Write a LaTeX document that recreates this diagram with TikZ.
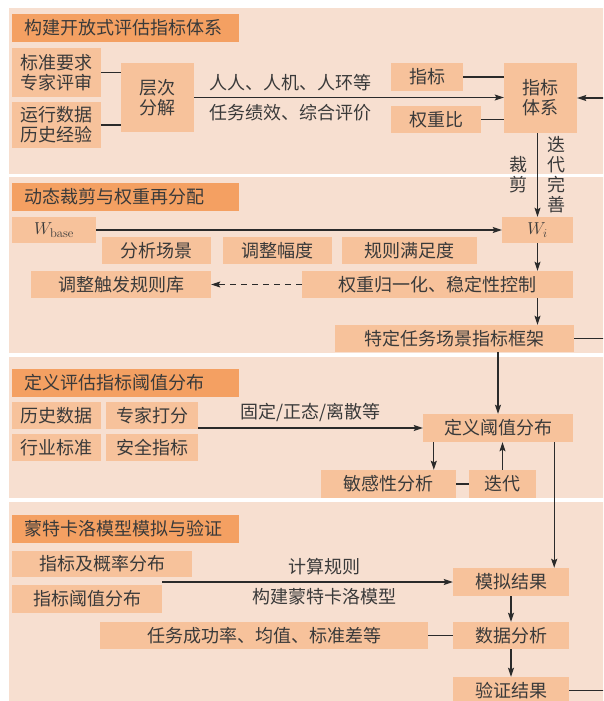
\documentclass[tikz,border=0pt]{standalone}
\usepackage{fontspec}
\newfontfamily\cjk{Noto Sans CJK SC}
\usetikzlibrary{arrows.meta}
\definecolor{panelbg}{HTML}{F7DFD0}
\definecolor{titlebg}{HTML}{F4A062}
\definecolor{boxbg}{HTML}{F7C29B}
\definecolor{textc}{HTML}{3A3A3A}
\definecolor{linec}{HTML}{2A2A2A}

\begin{document}
\begin{tikzpicture}[x=1pt, y=-1pt,
  every node/.style={font=\cjk\fontsize{18}{20}\selectfont, text=textc},
  panel/.style={fill=panelbg},
  title/.style={fill=titlebg, anchor=west, minimum height=28pt, text width=203pt,
    inner xsep=12pt, inner ysep=0pt, align=left},
  box/.style={fill=boxbg, inner sep=0pt, align=center},
  line/.style={draw=linec, line width=1.2pt},
  arrow/.style={line, -{Stealth[length=9pt, width=6pt, inset=1.5pt]}},
  lbl/.style={inner sep=2pt, align=center}
]
  \useasboundingbox (0,0) rectangle (603,701);
  \clip (0,0) rectangle (603,701);

  % panels
  \fill[panel] (9,8)   rectangle (615,174);
  \fill[panel] (9,177) rectangle (615,353);
  \fill[panel] (9,357) rectangle (615,498);
  \fill[panel] (9,502) rectangle (615,715);

  \node[title] (t1) at (12,28)    {构建开放式评估指标体系};
  \node[title] (t2) at (12,196.5) {动态裁剪与权重再分配};
  \node[title] (t3) at (12,383)   {定义评估指标阈值分布};
  \node[title] (t4) at (12,529)   {蒙特卡洛模型模拟与验证};

  % panel 1
  \node[box, minimum width=89pt, minimum height=49pt] (std)  at (56.5,72.5) {标准要求\\专家评审};
  \node[box, minimum width=89pt, minimum height=46pt] (run)  at (56.5,125)  {运行数据\\历史经验};
  \node[box, minimum width=73pt, minimum height=69pt] (ccfj) at (157.5,97.5) {层次\\分解};
  \node[box, minimum width=72pt, minimum height=28pt] (zb)   at (427,77)    {指标};
  \node[box, minimum width=90pt, minimum height=27pt] (qzb)  at (436,119.5) {权重比};
  \node[box, minimum width=73pt, minimum height=70pt] (zbtx) at (540.5,98)  {指标\\体系};

  % panel 2
  \node[box, minimum width=84pt, minimum height=26pt] (wbase) at (54,230) {$W_{\mathrm{base}}$};
  \node[box, minimum width=71pt, minimum height=26pt] (wi)    at (537.5,230) {$W_i$};
  \node[box, minimum width=109pt, minimum height=27pt] (fxcj) at (156.5,250.5) {分析场景};
  \node[box, minimum width=109pt, minimum height=27pt] (tzfd) at (277.5,250.5) {调整幅度};
  \node[box, minimum width=135pt, minimum height=27pt] (gzmz) at (409.5,250.5) {规则满足度};
  \node[box, minimum width=180pt, minimum height=27pt] (tzgz) at (121,284.5)   {调整触发规则库};
  \node[box, minimum width=271pt, minimum height=27pt] (gyh)  at (437.5,284.5) {权重归一化、稳定性控制};
  \node[box, minimum width=239pt, minimum height=27pt] (tdrw) at (454.5,338.5) {特定任务场景指标框架};

  % panel 3
  \node[box, minimum width=89pt, minimum height=27pt] (lssj) at (56.5,415.5) {历史数据};
  \node[box, minimum width=92pt, minimum height=27pt] (zjdf) at (152,415.5)  {专家打分};
  \node[box, minimum width=89pt, minimum height=27pt] (hybz) at (56.5,447.5) {行业标准};
  \node[box, minimum width=92pt, minimum height=27pt] (aqzb) at (152,447.5)  {安全指标};
  \node[box, minimum width=150pt, minimum height=28pt] (dyfz) at (498,428)   {定义阈值分布};
  \node[box, minimum width=135pt, minimum height=28pt] (mgx)  at (388.5,484)  {敏感性分析};
  \node[box, minimum width=67pt, minimum height=28pt]  (dd)   at (502.5,484)  {迭代};

  % panel 4
  \node[box, minimum width=180pt, minimum height=26pt] (zbgl) at (102,564)   {指标及概率分布};
  \node[box, minimum width=150pt, minimum height=28pt] (zbyz) at (87,599)    {指标阈值分布};
  \node[box, minimum width=116pt, minimum height=28pt] (mnjg) at (511,582)   {模拟结果};
  \node[box, minimum width=328pt, minimum height=27pt] (rwcg) at (264,635.5) {任务成功率、均值、标准差等};
  \node[box, minimum width=116pt, minimum height=27pt] (sjfx) at (511,635.5) {数据分析};
  \node[box, minimum width=116pt, minimum height=27pt] (yzjg) at (511,690.5) {验证结果};

  % feedback on the right edge
  \coordinate (fb1) at (607,98);
  \coordinate (fb2) at (607,338.5);
  \coordinate (fb3) at (607,690.5);

  % connectors
  \draw[line] (std.east) -- (std.east -| ccfj.west);
  \draw[line] (run.east) -- (run.east -| ccfj.west);
  \draw[arrow] (ccfj.east) -- node[lbl, pos=0.31, above=4pt] {人人、人机、人环等}
    node[lbl, pos=0.31, below=4pt] {任务绩效、综合评价} (ccfj.east -| zbtx.west);
  \draw[line] (zb.east) -- (zb.east -| zbtx.west);
  \draw[line] (qzb.east) -- (qzb.east -| zbtx.west);
  \draw[arrow] (zbtx.south -| wi.north) -- node[lbl, left=7pt] {裁\\剪}
    node[lbl, right=7pt] {迭\\代\\完\\善} (wi.north);

  \draw[arrow] (wbase.east) -- (wi.west);
  \draw[arrow] (wi.south) -- (wi.south |- gyh.north);
  \draw[arrow, dash pattern=on 6pt off 5pt] (gyh.west) -- (tzgz.east);
  \draw[arrow] (wi.south |- gyh.south) -- (wi.south |- tdrw.north);
  \draw[arrow] (tdrw.south -| dyfz.north) -- (dyfz.north);

  \draw[arrow] (dyfz.west -| zjdf.east) -- node[lbl, above=4pt] {固定/正态/离散等} (dyfz.west);
  \draw[arrow] ([xshift=11pt]dyfz.south west) -- ([xshift=11pt]dyfz.south west |- mgx.north);
  \draw[line] (mgx.east) -- (dd.west);
  \draw[arrow] (dd.north) -- (dd.north |- dyfz.south);
  \draw[arrow] ([xshift=-19pt]dyfz.south east) -- ([xshift=-19pt]dyfz.south east |- mnjg.north);

  \draw[arrow] (mnjg.west -| zbyz.east) -- node[lbl, pos=0.56, above=4pt] {计算规则}
    node[lbl, pos=0.56, below=4pt] {构建蒙特卡洛模型} (mnjg.west);
  \draw[arrow] (mnjg.south) -- (sjfx.north);
  \draw[line] (rwcg.east) -- (sjfx.west);
  \draw[arrow] (sjfx.south) -- (yzjg.north);

  \draw[line] (yzjg.east) -- (fb3) -- (fb1);
  \draw[line] (tdrw.east) -- (fb2);
  \draw[arrow] (fb1) -- (zbtx.east);
\end{tikzpicture}
\end{document}
